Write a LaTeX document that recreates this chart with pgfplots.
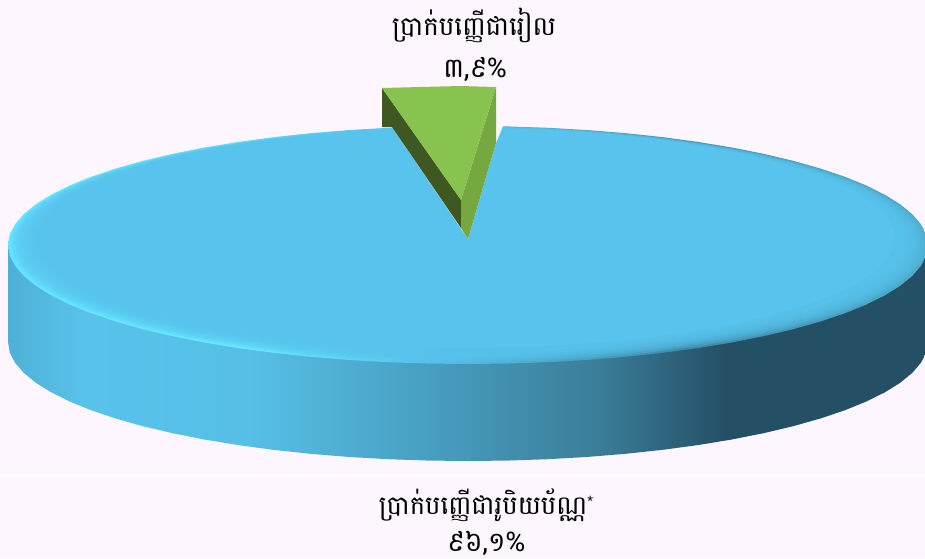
\documentclass[border=0pt]{standalone}
\usepackage{pgfplots}
\usepackage{pgfplotstable}
\pgfplotsset{compat=1.18}
\usepackage{fontspec}
\setmainfont{Liberation Sans}
\newfontfamily\khmer[Script=Khmer]{Battambang}
\definecolor{bgc}{HTML}{FDF6FF}
\definecolor{topc}{HTML}{58C4ED}
\definecolor{gtop}{HTML}{89C34F}
\definecolor{gdark}{HTML}{3F5721}
\definecolor{gright}{HTML}{76A842}
\definecolor{wa}{HTML}{4FB0D6}
\definecolor{wb}{HTML}{58C2EA}
\definecolor{wc}{HTML}{57BFE6}
\definecolor{wd}{HTML}{4AA5C8}
\definecolor{we}{HTML}{3B7E99}
\definecolor{wf}{HTML}{245065}
\definecolor{ra}{HTML}{64E2FF}
\definecolor{rb}{HTML}{68E8FF}
\definecolor{rc}{HTML}{58C4ED}
\definecolor{rd}{HTML}{3F8AA8}
\definecolor{re}{HTML}{4FAFD2}
\pgfdeclarehorizontalshading{wallshade}{100bp}{color(0bp)=(wa);color(25bp)=(wa);color(29bp)=(wb);color(38bp)=(wc);color(46bp)=(wd);color(57bp)=(we);color(64bp)=(wf);color(75bp)=(wf);color(100bp)=(wf)}
\pgfdeclarehorizontalshading{rimshade}{100bp}{color(0bp)=(ra);color(25bp)=(ra);color(38bp)=(rb);color(47bp)=(rc);color(62bp)=(rd);color(75bp)=(re);color(100bp)=(re)}
\pgfplotstableread{
c s
1 0
.9962 .0872
.9848 .1736
.9659 .2588
.9397 .3420
.9063 .4226
.8660 .5
.8192 .5736
.7660 .6428
.7071 .7071
.6428 .7660
.5736 .8192
.5 .8660
.4226 .9063
.3420 .9397
.2588 .9659
.1736 .9848
.0872 .9962
0 1
-.0872 .9962
-.1736 .9848
-.2588 .9659
-.3420 .9397
-.4226 .9063
-.5 .8660
-.5736 .8192
-.6428 .7660
-.7071 .7071
-.7660 .6428
-.8192 .5736
-.8660 .5
-.9063 .4226
-.9397 .3420
-.9659 .2588
-.9848 .1736
-.9962 .0872
-1 0
-.9962 -.0872
-.9848 -.1736
-.9659 -.2588
-.9397 -.3420
-.9063 -.4226
-.8660 -.5
-.8192 -.5736
-.7660 -.6428
-.7071 -.7071
-.6428 -.7660
-.5736 -.8192
-.5 -.8660
-.4226 -.9063
-.3420 -.9397
-.2588 -.9659
-.1736 -.9848
-.0872 -.9962
0 -1
.0872 -.9962
.1736 -.9848
.2588 -.9659
.3420 -.9397
.4226 -.9063
.5 -.8660
.5736 -.8192
.6428 -.7660
.7071 -.7071
.7660 -.6428
.8192 -.5736
.8660 -.5
.9063 -.4226
.9397 -.3420
.9659 -.2588
.9848 -.1736
.9962 -.0872
}\ellipsetable
\pgfplotstableread{
c s
1 -.815
1 0
.9962 .0872
.9848 .1736
.9659 .2588
.9397 .3420
.9063 .4226
.8660 .5
.8192 .5736
.7660 .6428
.7071 .7071
.6428 .7660
.5736 .8192
.5 .8660
.4226 .9063
.3420 .9397
.2588 .9659
.1736 .9848
.0872 .9962
0 1
-.0872 .9962
-.1736 .9848
-.2588 .9659
-.3420 .9397
-.4226 .9063
-.5 .8660
-.5736 .8192
-.6428 .7660
-.7071 .7071
-.7660 .6428
-.8192 .5736
-.8660 .5
-.9063 .4226
-.9397 .3420
-.9659 .2588
-.9848 .1736
-.9962 .0872
-1 0
-1 -.815
}\walltable
\begin{document}
\begin{tikzpicture}
\begin{axis}[
  scale only axis, width=925pt, height=558pt,
  xmin=0, xmax=925, ymin=0, ymax=558, y dir=reverse,
  hide axis, clip=true, no markers]
\addplot[fill=bgc, draw=none] coordinates {(0,0) (925,0) (925,558) (0,558)};
\addplot[fill=white, draw=none] coordinates {(0,473.5) (925,473.5) (925,476.5) (0,476.5)};
\addplot[shade, shading=wallshade, draw=none] table[x expr=468+460*\thisrow{c}, y expr=342+119*\thisrow{s}] {\walltable};
\addplot[shade, shading=rimshade, draw=none] table[x expr=468+460*\thisrow{c}, y expr=245+119*\thisrow{s}] {\ellipsetable};
\pgfplotsinvokeforeach{1,...,8}{
  \addplot[fill=topc, fill opacity=.3, draw=none] table[x expr=468+(460-3.6*#1)*\thisrow{c}, y expr=245-0.75*#1+(119-1.0*#1)*\thisrow{s}] {\ellipsetable};
}
\addplot[fill=topc, draw=none] table[x expr=468+(460-33)*\thisrow{c}, y expr=245-7+(119-9)*\thisrow{s}] {\ellipsetable};
% notch of the pulled-out slice
\addplot[fill=bgc, draw=none] coordinates {(392,127) (468,239) (496,143) (503,126) (503,105) (392,105)};
% slice 3.9
\addplot[fill=gdark, draw=none] coordinates {(382,88) (461,200) (461,228) (392,127) (382,127)};
\addplot[fill=gright, draw=none] coordinates {(496,87) (496,143) (468,239) (461,228) (461,200)};
\addplot[fill=gtop, draw=none] coordinates {(382,88) (420,87) (460,86) (496,87) (461,200)};
\node[font=\khmer\fontsize{26.2}{30}\selectfont, text=black] at (axis cs:474,25) {ប្រាក់បញ្ញើជារៀល};
\node[font=\khmer\fontsize{27}{30}\selectfont, text=black] at (axis cs:475,69) {៣,៩\%};
\node[font=\khmer\fontsize{25.9}{30}\selectfont, text=black] at (axis cs:486,505) {ប្រាក់បញ្ញើជារូបិយប័ណ្ណ\raisebox{8pt}{\rmfamily\fontsize{15}{15}\selectfont *}};
\node[font=\khmer\fontsize{27}{30}\selectfont, text=black] at (axis cs:486,543) {៩៦,១\%};
\end{axis}
\end{tikzpicture}
\end{document}
